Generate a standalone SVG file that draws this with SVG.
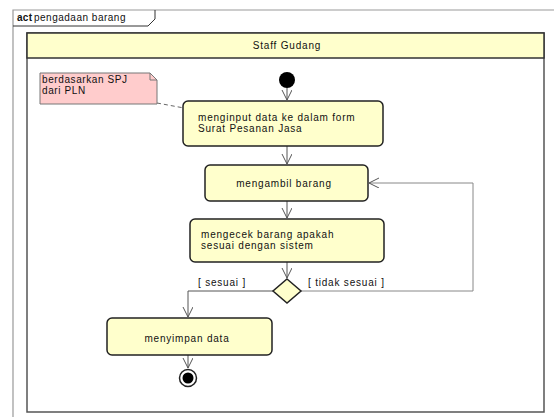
<svg xmlns="http://www.w3.org/2000/svg" width="554" height="417" viewBox="0 0 554 417">
<style>
text{font-family:"Liberation Sans",Arial,sans-serif;font-size:10px;fill:#111;letter-spacing:0.8px}
.act{fill:#FFFFCC;stroke:#222;stroke-width:1.5}
.edge{fill:none;stroke:#555;stroke-width:1}
.loop{fill:none;stroke:#888;stroke-width:1}
</style>
<defs>
<marker id="arr" markerWidth="12" markerHeight="12" refX="10" refY="5" orient="auto" markerUnits="userSpaceOnUse">
<polyline points="0,0 10,5 0,10" fill="none" stroke="#555" stroke-width="1"/>
</marker>
</defs>
<rect width="554" height="417" fill="#fff"/>
<g id="frame">
<polyline points="554,10 13,10 13,417" fill="none" stroke="#999" stroke-width="1.2"/>
<polyline points="13,26 148,26 155,19 155,10" fill="none" stroke="#333" stroke-width="1"/>
<text x="17" y="21" style="font-weight:bold;letter-spacing:0.3px">act</text>
<text x="34" y="21" style="letter-spacing:0.5px">pengadaan barang</text>
</g>
<g id="lane">
<rect x="27" y="33" width="517" height="379" fill="#fff" stroke="#555" stroke-width="1.5"/>
<rect x="27" y="33" width="517" height="25" fill="#FFFFCC" stroke="#333" stroke-width="1.5"/>
<text x="287" y="49" text-anchor="middle">Staff Gudang</text>
</g>
<g id="connectors">
<line class="edge" x1="287" y1="88" x2="287" y2="100" marker-end="url(#arr)"/>
<line class="edge" x1="287" y1="146" x2="287" y2="164" marker-end="url(#arr)"/>
<line class="edge" x1="287" y1="201" x2="287" y2="218" marker-end="url(#arr)"/>
<line class="edge" x1="287" y1="262" x2="287" y2="278" marker-end="url(#arr)"/>
<polyline class="edge" points="273,291 188,291 188,317" marker-end="url(#arr)"/>
<polyline class="loop" points="301,291 473,291 473,183 369,183" marker-end="url(#arr)"/>
<line class="edge" x1="188" y1="355" x2="188" y2="368" marker-end="url(#arr)"/>
<line x1="157" y1="103" x2="184" y2="108" stroke="#666" stroke-width="1" stroke-dasharray="4,3"/>
</g>
<g id="note">
<polygon points="40,73 150,73 157,80 157,104 40,104" fill="#FFCCCC" stroke="#777" stroke-width="1"/>
<polyline points="150,73 150,80 157,80" fill="none" stroke="#777" stroke-width="1"/>
<text x="42" y="83" style="letter-spacing:0.6px">berdasarkan SPJ</text>
<text x="42" y="94" style="letter-spacing:0.6px">dari PLN</text>
</g>
<g id="start">
<circle cx="287" cy="80" r="8" fill="#000"/>
</g>
<g id="a1">
<rect class="act" x="183" y="101" width="200" height="45" rx="5"/>
<text x="198" y="121">menginput data ke dalam form</text>
<text x="198" y="132">Surat Pesanan Jasa</text>
</g>
<g id="a2">
<rect class="act" x="205" y="165" width="163" height="36" rx="5"/>
<text x="284" y="187" text-anchor="middle">mengambil barang</text>
</g>
<g id="a3">
<rect class="act" x="190" y="219" width="194" height="43" rx="5"/>
<text x="201" y="238">mengecek barang apakah</text>
<text x="201" y="249">sesuai dengan sistem</text>
</g>
<g id="decision">
<polygon points="287,279 301,291 287,303 273,291" fill="#FFFFCC" stroke="#222" stroke-width="1.5"/>
<text x="198" y="286">[ sesuai ]</text>
<text x="308" y="286">[ tidak sesuai ]</text>
</g>
<g id="a4">
<rect class="act" x="107" y="318" width="165" height="37" rx="5"/>
<text x="187" y="342" text-anchor="middle">menyimpan data</text>
</g>
<g id="end">
<circle cx="188" cy="378" r="8.5" fill="#fff" stroke="#222" stroke-width="1.5"/>
<circle cx="188" cy="378" r="5.5" fill="#000"/>
</g>
</svg>
